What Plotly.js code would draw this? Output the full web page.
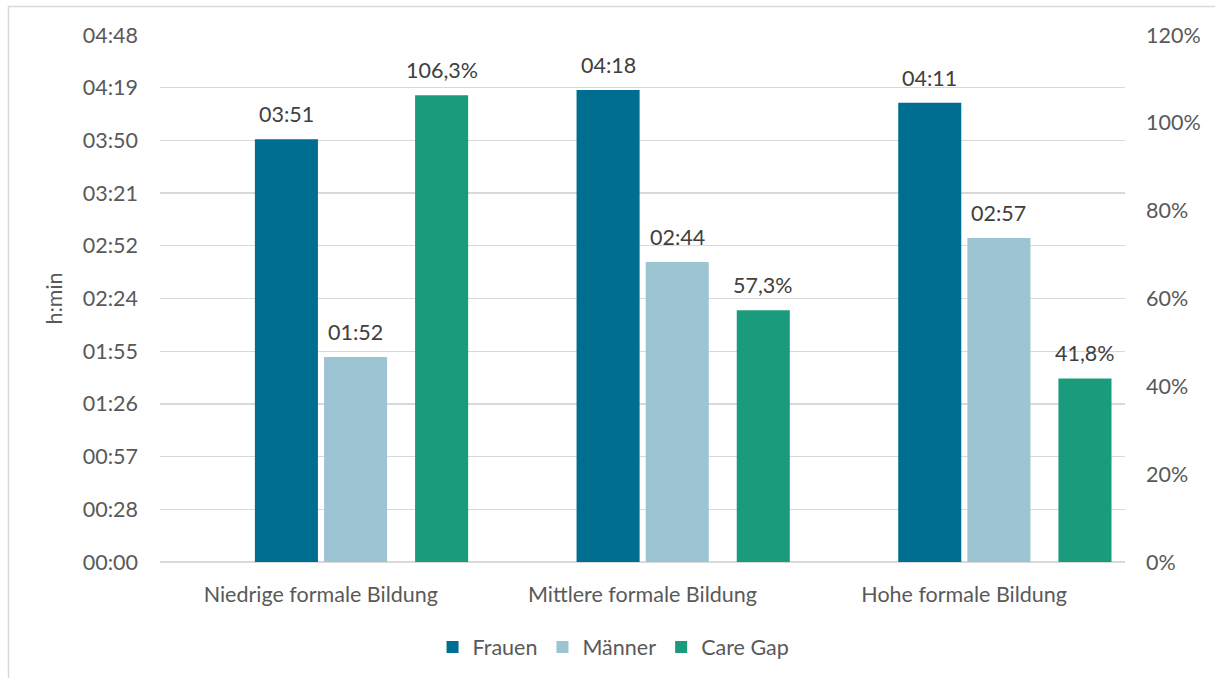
<!DOCTYPE html>
<html>
<head>
<meta charset="utf-8">
<script src="https://cdn.plot.ly/plotly-3.0.1.min.js"></script>
<style>
  html, body { margin: 0; padding: 0; background: #ffffff; }
  #chart { width: 1215px; height: 678px; }
</style>
</head>
<body>
<div id="chart"></div>
<script>
// Education level groups
const categories = ['Niedrige formale Bildung', 'Mittlere formale Bildung', 'Hohe formale Bildung'];

// Daily care time in minutes
const frauenMin = [231, 258, 251];
const maennerMin = [112, 164, 177];

// Care gap in percent
const careGapPct = [106.3, 57.3, 41.8];

// Left axis (h:min) ticks, in minutes
const timeTickVals = [0, 28.8, 57.6, 86.4, 115.2, 144, 172.8, 201.6, 230.4, 259.2, 288];
const timeTickText = ['00:00', '00:28', '00:57', '01:26', '01:55', '02:24', '02:52', '03:21', '03:50', '04:19', '04:48'];

// Right axis ticks, in percent
const pctTickVals = [0, 20, 40, 60, 80, 100, 120];
const pctTickText = ['0%', '20%', '40%', '60%', '80%', '100%', '120%'];

const COLORS = { frauen: '#006e91', maenner: '#9dc4d2', gap: '#1a9c7c' };
const TEXT = '#595959';
const GRID = '#d9d9d9';
const FONT = 'Lato, "Open Sans", sans-serif';
const FS = 21.5;

// bar slot geometry within a category (category width = 1)
const slots = {
  frauen:  { offset: -0.205, width: 0.196 },
  maenner: { offset: 0.010,  width: 0.196 },
  gap:     { offset: 0.293,  width: 0.165 }
};

function fmtTime(min) {
  const h = Math.floor(min / 60);
  const m = Math.round(min - h * 60);
  return String(h).padStart(2, '0') + ':' + String(m).padStart(2, '0');
}
function fmtPct(v) {
  return v.toFixed(1).replace('.', ',') + '%';
}

const idx = categories.map((_, i) => i);

function barTrace(name, vals, slot, color, yaxis) {
  return {
    type: 'bar',
    name: name,
    x: categories,
    y: vals,
    yaxis: yaxis,
    offset: slot.offset,
    width: slot.width,
    marker: { color: color, line: { width: 0 } },
    hoverinfo: 'x+y'
  };
}

const traces = [
  barTrace('Frauen', frauenMin, slots.frauen, COLORS.frauen, 'y'),
  barTrace('Männer', maennerMin, slots.maenner, COLORS.maenner, 'y'),
  barTrace('Care Gap', careGapPct, slots.gap, COLORS.gap, 'y2')
];

// value labels above each bar
function labels(vals, slot, fmt, yref) {
  return vals.map((v, i) => ({
    x: idx[i] + slot.offset + slot.width / 2,
    y: v,
    xref: 'x',
    yref: yref,
    text: fmt(v),
    showarrow: false,
    yanchor: 'bottom',
    xanchor: 'center',
    yshift: 10,
    font: { family: FONT, size: FS, color: '#404040' }
  }));
}

const annotations = [].concat(
  labels(frauenMin, slots.frauen, fmtTime, 'y'),
  labels(maennerMin, slots.maenner, fmtTime, 'y'),
  labels(careGapPct, slots.gap, fmtPct, 'y2')
);

const layout = {
  width: 1215,
  height: 678,
  margin: { l: 160, r: 90, t: 35, b: 115 },
  paper_bgcolor: '#ffffff',
  plot_bgcolor: '#ffffff',
  font: { family: FONT, size: FS, color: TEXT },
  barmode: 'overlay',
  showlegend: true,
  legend: {
    orientation: 'h',
    x: 0.47,
    xanchor: 'center',
    y: -0.159,
    yanchor: 'middle',
    font: { family: FONT, size: FS, color: TEXT },
    itemwidth: 30,
    traceorder: 'normal'
  },
  xaxis: {
    type: 'category',
    range: [-0.5, 2.5],
    showgrid: false,
    zeroline: false,
    showline: false,
    ticks: '',
    ticklabelstandoff: 17,
    tickfont: { family: FONT, size: FS, color: TEXT }
  },
  yaxis: {
    range: [0, 288],
    tickmode: 'array',
    tickvals: timeTickVals,
    ticktext: timeTickText,
    showgrid: true,
    gridcolor: GRID,
    gridwidth: 1.3,
    zeroline: true,
    zerolinecolor: GRID,
    zerolinewidth: 1.3,
    showline: false,
    ticks: '',
    ticklabelstandoff: 21,
    tickfont: { family: FONT, size: FS, color: TEXT },
    automargin: true,
    title: { text: 'h:min', standoff: 14, font: { family: FONT, size: FS, color: TEXT } }
  },
  yaxis2: {
    overlaying: 'y',
    side: 'right',
    range: [0, 120],
    tickmode: 'array',
    tickvals: pctTickVals,
    ticktext: pctTickText,
    showgrid: false,
    zeroline: false,
    showline: false,
    ticks: '',
    ticklabelstandoff: 20,
    tickfont: { family: FONT, size: FS, color: TEXT }
  },
  annotations: annotations,
  shapes: [{
    type: 'rect',
    xref: 'paper', yref: 'paper',
    x0: -0.157, x1: 1.1, y0: -0.23, y1: 1.054,
    line: { color: '#d9d9d9', width: 1.5 },
    fillcolor: 'rgba(0,0,0,0)',
    layer: 'below'
  }]
};

Plotly.newPlot('chart', traces, layout, { displayModeBar: false, staticPlot: true });
</script>
</body>
</html>
